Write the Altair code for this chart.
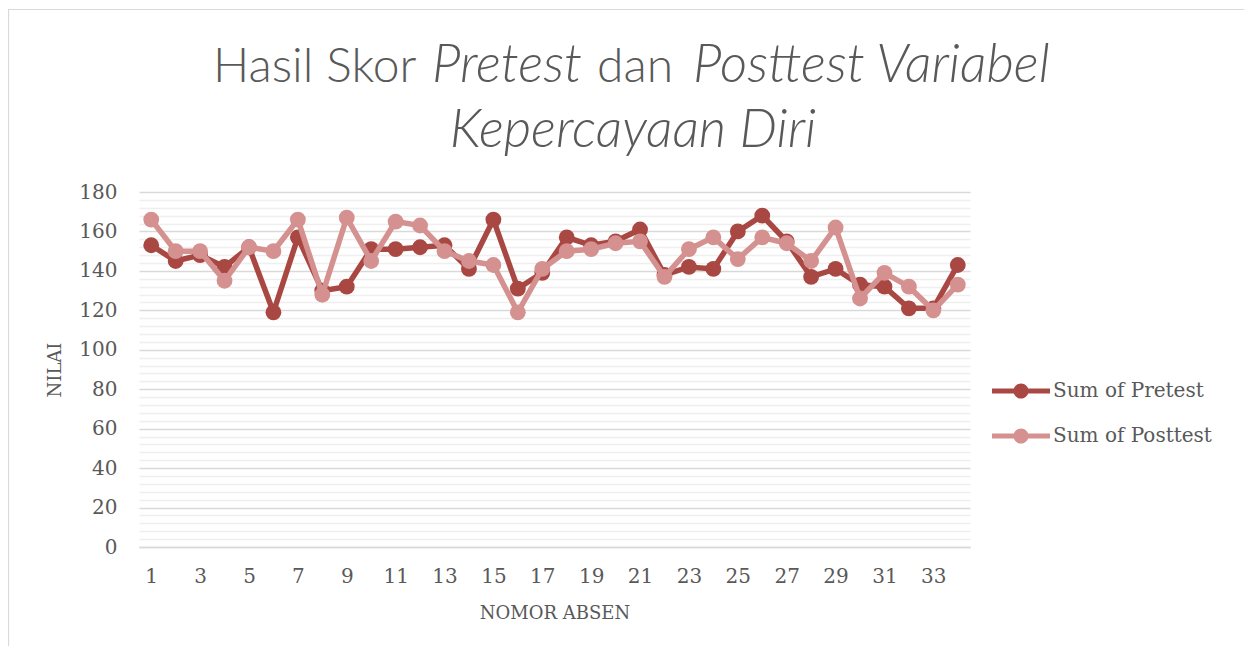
import altair as alt
import pandas as pd

nomor = list(range(1, 35))
pretest = [153, 145, 148, 142, 152, 119, 157, 130, 132, 151, 151, 152, 153, 141,
           166, 131, 139, 157, 153, 155, 161, 138, 142, 141, 160, 168, 155, 137,
           141, 133, 132, 121, 121, 143]
posttest = [166, 150, 150, 135, 152, 150, 166, 128, 167, 145, 165, 163, 150, 145,
            143, 119, 141, 150, 151, 154, 155, 137, 151, 157, 146, 157, 154, 145,
            162, 126, 139, 132, 120, 133]
series_names = ["Sum of Pretest", "Sum of Posttest"]
series_colors = ["#A94743", "#D49190"]
x_ticks = list(range(1, 34, 2))
y_ticks = list(range(0, 181, 4))

df = pd.concat([
    pd.DataFrame({"nomor": nomor, "nilai": pretest, "series": series_names[0]}),
    pd.DataFrame({"nomor": nomor, "nilai": posttest, "series": series_names[1]}),
])

TXT = "#595959"
SERIF = "DejaVu Serif"
TITLE_FONT = "Lato"

x_enc = alt.X("nomor:Q", scale=alt.Scale(domain=[0.5, 34.5], nice=False, zero=False),
              axis=alt.Axis(values=x_ticks, tickCount=100, format="d", title="NOMOR ABSEN",
                            grid=False, ticks=False, tickSize=0, domainColor="#d9d9d9",
                            domainWidth=1.5, labelPadding=19, titlePadding=18))
y_enc = alt.Y("nilai:Q", scale=alt.Scale(domain=[0, 180], nice=False),
              axis=alt.Axis(values=y_ticks, tickCount=100, format="d", title="NILAI", domain=False,
                            ticks=False, tickSize=0, labelOverlap=False,
                            labelExpr="datum.value % 20 == 0 ? datum.label : ''",
                            gridColor={"condition": {"test": "datum.value % 20 === 0", "value": "#d9d9d9"},
                                       "value": "#efefef"},
                            gridWidth=1.5, labelPadding=22, titlePadding=14))

sym_path = ("M-1,-0.086L1,-0.086L1,0.086L-1,0.086Z "
            "M-0.26,0A0.26,0.26,0,1,1,0.26,0A0.26,0.26,0,1,1,-0.26,0Z")

legend = alt.Legend(title=None, orient="none", legendX=853, legendY=170,
                    symbolType=sym_path, symbolSize=3364, symbolStrokeWidth=0,
                    labelFont=SERIF, labelFontSize=20, labelColor=TXT,
                    labelOffset=3, rowPadding=6)
color_scale = alt.Scale(domain=series_names, range=series_colors)
color_enc = alt.Color("series:N", scale=color_scale, sort=series_names, legend=legend)

series_layers = []
for i, name in enumerate(series_names):
    base = alt.Chart(df).transform_filter(alt.datum.series == name)
    ln = base.mark_line(strokeWidth=5.5).encode(
        x=x_enc if i == 0 else alt.X("nomor:Q"),
        y=y_enc if i == 0 else alt.Y("nilai:Q"),
        color=color_enc)
    pt = base.mark_point(filled=True, size=250, opacity=1).encode(
        x="nomor:Q", y="nilai:Q", color=color_enc)
    series_layers += [ln, pt]

one = alt.Data(values=[{}])

def txt(s, x, y, italic=False, align="left"):
    return alt.Chart(one).mark_text(text=s, font=TITLE_FONT, fontSize=53 if italic else 48,
                                    fontWeight=300,
                                    fontStyle="italic" if italic else "normal", color=TXT,
                                    align=align, baseline="alphabetic").encode(
        x=alt.value(x), y=alt.value(y))

title_layers = [
    txt("Hasil Skor", 74, -110),
    txt("Pretest", 293, -110, True),
    txt("dan", 458, -110),
    txt("Posttest Variabel", 554, -110, True),
    txt("Kepercayaan Diri", 494, -45, True, "center"),
]

frame_top = alt.Chart(one).mark_rule(color="#d9d9d9", strokeWidth=1.2).encode(
    x=alt.value(-130), x2=alt.value(1105), y=alt.value(-182.5))
frame_left = alt.Chart(one).mark_rule(color="#d9d9d9", strokeWidth=1.2).encode(
    x=alt.value(-130.5), y=alt.value(-183), y2=alt.value(460))

chart = alt.layer(frame_top, frame_left, *series_layers, *title_layers).properties(
    width=831, height=355,
    autosize=alt.AutoSizeParams(type="none"),
    padding={"left": 131, "top": 184, "right": 274, "bottom": 99},
).configure_view(stroke=None).configure_axis(
    labelFont=SERIF, labelFontSize=20, labelColor=TXT,
    titleFont=SERIF, titleFontSize=18, titleColor=TXT, titleFontWeight="normal",
)

chart.save("out.html", embed_options={"renderer": "svg", "actions": False})
